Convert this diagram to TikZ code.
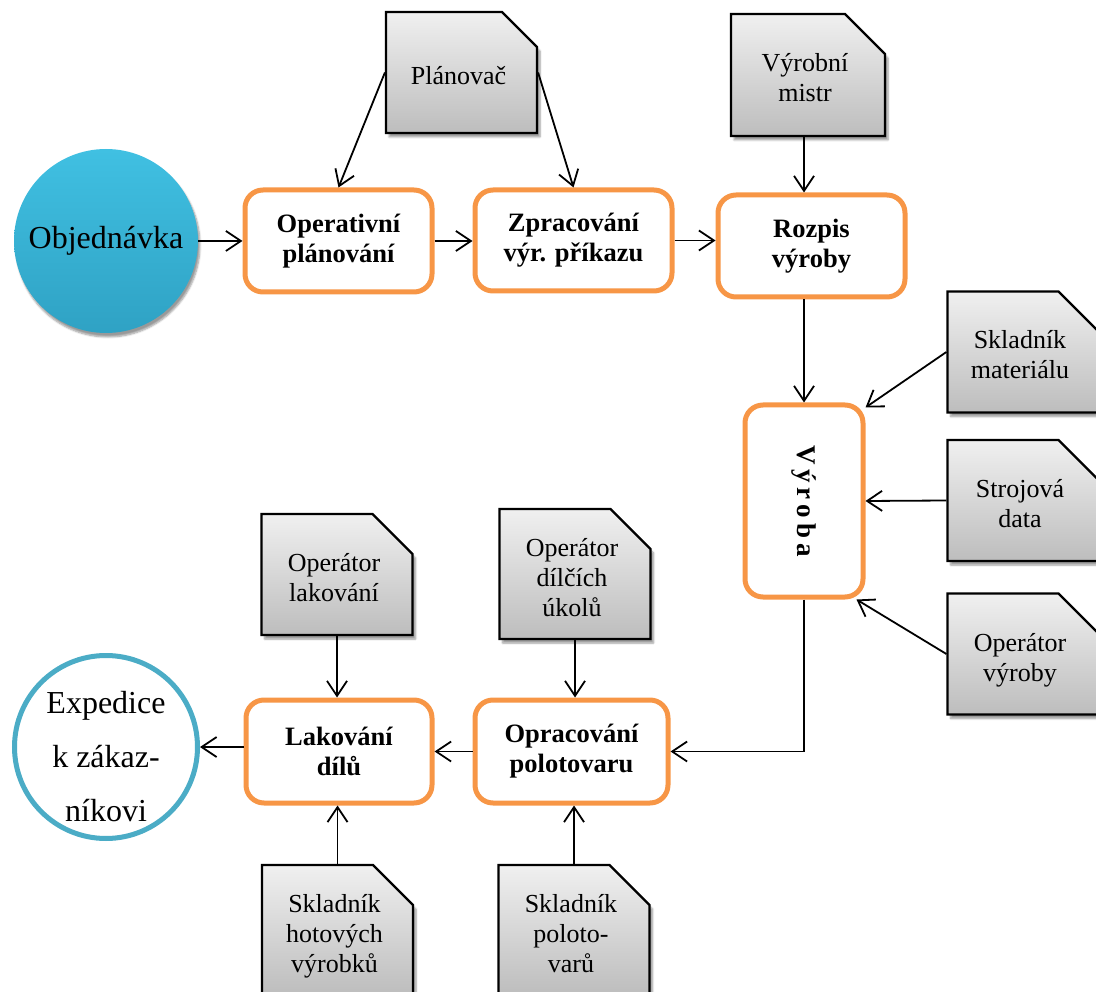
\documentclass[tikz,border=0pt]{standalone}
\usepackage{fontspec}
\setmainfont{Liberation Serif}
\usetikzlibrary{arrows.meta,shapes.misc,shadows.blur}
\definecolor{procorange}{HTML}{F79646}
\definecolor{tealrim}{HTML}{4BACC6}
\definecolor{tealtop}{HTML}{40C0E2}
\definecolor{tealbot}{HTML}{2FA2C4}
\definecolor{doctop}{HTML}{F0F0F0}
\definecolor{docbot}{HTML}{BDBDBD}
\tikzset{
  process/.style={draw=procorange, line width=5pt, rounded corners=18pt,
    fill=white, align=center, inner sep=0pt,
    font=\fontsize{26.5}{30}\selectfont\bfseries},
  document/.style={chamfered rectangle, chamfered rectangle corners=north east,
    chamfered rectangle xsep=20pt, chamfered rectangle ysep=20pt,
    draw=black, line width=2.2pt, top color=doctop, bottom color=docbot,
    minimum width=151pt, minimum height=121pt, inner sep=0pt,
    font=\fontsize{26}{30}\selectfont,
    blur shadow={shadow xshift=3pt, shadow yshift=-4pt, shadow blur steps=6, shadow opacity=40}},
  arr/.style={line width=1.8pt, -{Straight Barb[length=15pt,width=20pt,line width=1.8pt]}}
}
% document labels sit a little below and left of the shape centre
\newcommand{\doclabel}[1]{\raisebox{-6pt}[\height][\depth]{\hspace{-6pt}\begin{tabular}{@{}c@{}}#1\end{tabular}}}
\begin{document}
\begin{tikzpicture}[x=1pt,y=-1pt]
\useasboundingbox (0,0) rectangle (1096,992);

% start and end of the flow
\node[circle, minimum size=184pt, inner sep=0pt, top color=tealtop, bottom color=tealbot,
  blur shadow={shadow xshift=2pt, shadow yshift=-4pt, shadow blur steps=6, shadow opacity=40},
  font=\fontsize{32}{36}\selectfont] (objed) at (106,241) {Objednávka};
\node[circle, draw=tealrim, line width=5pt, fill=white, minimum size=183pt, inner sep=0pt] (exped) at (106,747) {};
\node[align=center, inner sep=0pt, font=\fontsize{32}{54}\selectfont] (expedtext) at (106,757)
  {Expedice\\k zákaz-\\níkovi};

% process steps
\node[process, minimum width=187pt, minimum height=102pt] (oper) at (338.5,241) {Operativní\\plánování};
\node[process, minimum width=197pt, minimum height=101pt] (zprac) at (573.5,240.5) {Zpracování\\výr. příkazu};
\node[process, minimum width=187pt, minimum height=102pt] (rozpis) at (811.5,246) {Rozpis\\výroby};
\node[process, minimum width=118pt, minimum height=192pt] (vyroba) at (804,501)
  {\rotatebox{-90}{\fontsize{27}{30}\selectfont\bfseries V\hskip5ptý\hskip5ptr\hskip5pto\hskip5ptb\hskip5pta}};
\node[process, minimum width=193pt, minimum height=103pt] (oprac) at (571.5,751.5) {Opracování\\polotovaru};
\node[process, minimum width=186pt, minimum height=103pt] (lak) at (339,751.5) {Lakování\\dílů};

% roles and data sources
\node[document] (plan) at (461.5,72.5) {\doclabel{Plánovač}};
\node[document, minimum width=154pt, minimum height=122pt] (mistr) at (808,75) {\doclabel{Výrobní\\mistr}};
\node[document] (sklmat) at (1023,352) {\doclabel{Skladník\\materiálu}};
\node[document] (stroj) at (1023,500.5) {\doclabel{Strojová\\data}};
\node[document] (opvyr) at (1023,654) {\doclabel{Operátor\\výroby}};
\node[document] (oplak) at (337,574.5) {\doclabel{Operátor\\lakování}};
\node[document] (opdil) at (575,574) {\doclabel{Operátor\\dílčích\\úkolů}};
\node[document] (sklhot) at (337.5,930) {\doclabel{Skladník\\hotových\\výrobků}};
\node[document] (sklpol) at (574,930) {\doclabel{Skladník\\poloto-\\varů}};

% main flow
\draw[arr] (objed.east) -- (oper.west);
\draw[arr] (oper.east) -- (oper.east -| zprac.west);
\draw[arr] (zprac.east) -- (zprac.east -| rozpis.west);
\draw[arr] (rozpis.south -| vyroba.north) -- (vyroba.north);
\draw[arr] (vyroba.south) |- (oprac.east);
\draw[arr] (oprac.west) -- (lak.east);
\draw[arr] (exped.east -| lak.west) -- (exped.east);

% inputs from roles
\draw[arr] (plan.west) -- (oper.north);
\draw[arr] (plan.east) -- (zprac.north);
\draw[arr] (mistr.south -| vyroba.north) -- (rozpis.north -| vyroba.north);
\draw[arr] (sklmat.west) -- ([yshift=-5pt]vyroba.north east);
\draw[arr] (stroj.west) -- (vyroba.east);
\draw[arr] (opvyr.west) -- ([xshift=-9pt]vyroba.south east);
\draw[arr] (oplak.south) -- (oplak.south |- lak.north);
\draw[arr] (opdil.south) -- (opdil.south |- oprac.north);
\draw[arr] (sklhot.north) -- (sklhot.north |- lak.south);
\draw[arr] (sklpol.north) -- (sklpol.north |- oprac.south);
\end{tikzpicture}
\end{document}
